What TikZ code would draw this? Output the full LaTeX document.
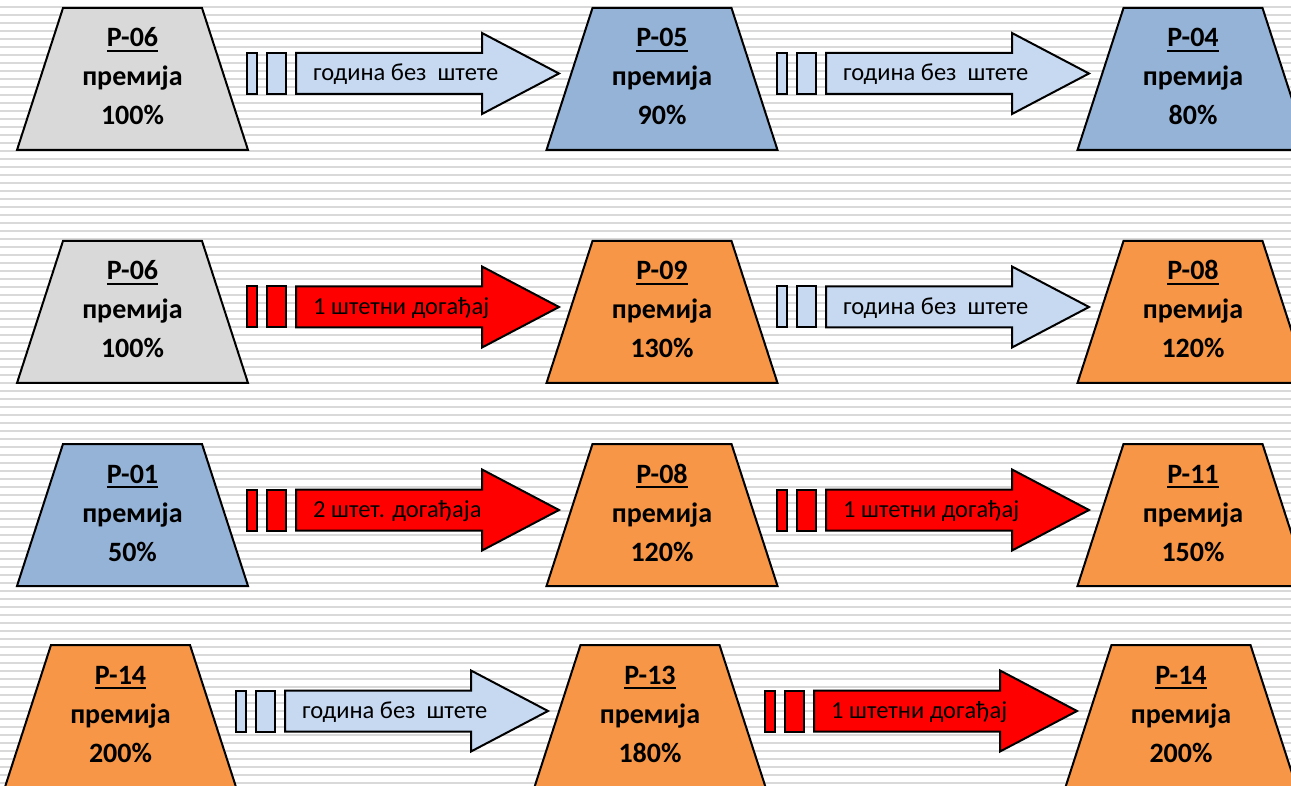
\documentclass[tikz,border=0pt]{standalone}
\usepackage{fontspec}
\setmainfont{Carlito}
\definecolor{stripe}{RGB}{217,217,217}
\definecolor{tgray}{RGB}{217,217,217}
\definecolor{tblue}{RGB}{149,179,215}
\definecolor{torange}{RGB}{247,150,70}
\definecolor{ablue}{RGB}{198,217,241}
\definecolor{ared}{RGB}{255,0,0}
\newcommand{\ulbox}[1]{\setbox0\hbox{#1}\rlap{\raisebox{-5pt}{\rule{\wd0}{2.2pt}}}\box0}
\tikzset{
  stripeline/.style={draw=stripe, line width=2pt},
  trap/.style={draw=black, line width=2pt, line join=miter},
  arr/.style={draw=black, line width=2pt, line join=miter},
  tcode/.style={inner sep=0pt, anchor=base, font=\fontsize{28}{32}\selectfont\bfseries},
  atext/.style={inner sep=0pt, anchor=base west, font=\fontsize{24.5}{28}\selectfont},
}
\newcommand{\trapbox}[6]{%
  \path[trap, fill=#4] ({#2-69.5},#3) -- ({#2+69.5},#3) -- ({#2+115.5},{#3+142}) -- ({#2-115.5},{#3+142}) -- cycle;
  \node[tcode] (#1) at (#2,{#3+39}) {\ulbox{#5}};
  \node[tcode] (#1-p) at (#2,{#3+78}) {премија};
  \node[tcode] (#1-v) at (#2,{#3+117}) {#6};
}
\newcommand{\arrowbox}[5]{%
  \path[arr, fill=#4] (#2,{#3-20.5}) rectangle ({#2+10},{#3+20.5});
  \path[arr, fill=#4] ({#2+20},{#3-20.5}) rectangle ({#2+39},{#3+20.5});
  \path[arr, fill=#4] ({#2+49},{#3-20.5}) -- ({#2+235},{#3-20.5}) -- ({#2+235},{#3-40.5}) -- ({#2+312},#3) -- ({#2+235},{#3+40.5}) -- ({#2+235},{#3+20.5}) -- ({#2+49},{#3+20.5}) -- cycle;
  \node[atext] (#1) at ({#2+66},{#3+7.5}) {#5};
}
\begin{document}
\begin{tikzpicture}[x=1pt, y=-1pt]
\useasboundingbox (0,0) rectangle (1291,786);
\clip (0,0) rectangle (1291,786);
\fill[white] (0,0) rectangle (1291,786);
\foreach \k in {-1,...,98} \draw[stripeline] (0,{7.3+8*\k}) -- (1291,{7.3+8*\k});
% row 1
\arrowbox{a11}{247}{73.5}{ablue}{година без\ \ штете}
\arrowbox{a12}{777}{73.5}{ablue}{година без\ \ штете}
\trapbox{t11}{132.5}{8}{tgray}{P-06}{100\%}
\trapbox{t12}{662}{8}{tblue}{P-05}{90\%}
\trapbox{t13}{1193}{8}{tblue}{P-04}{80\%}
% row 2
\arrowbox{a21}{247}{307}{ared}{1 штетни догађај}
\arrowbox{a22}{777}{307}{ablue}{година без\ \ штете}
\trapbox{t21}{132.5}{241}{tgray}{P-06}{100\%}
\trapbox{t22}{662}{241}{torange}{P-09}{130\%}
\trapbox{t23}{1193}{241}{torange}{P-08}{120\%}
% row 3
\arrowbox{a31}{247}{510}{ared}{2 штет. догађаја}
\arrowbox{a32}{777}{510}{ared}{1 штетни догађај}
\trapbox{t31}{132.5}{444}{tblue}{P-01}{50\%}
\trapbox{t32}{662}{444}{torange}{P-08}{120\%}
\trapbox{t33}{1193}{444}{torange}{P-11}{150\%}
% row 4
\arrowbox{a41}{236}{711}{ablue}{година без\ \ штете}
\arrowbox{a42}{765}{711}{ared}{1 штетни догађај}
\trapbox{t41}{120.5}{645}{torange}{P-14}{200\%}
\trapbox{t42}{650}{645}{torange}{P-13}{180\%}
\trapbox{t43}{1181}{645}{torange}{P-14}{200\%}
\end{tikzpicture}
\end{document}
